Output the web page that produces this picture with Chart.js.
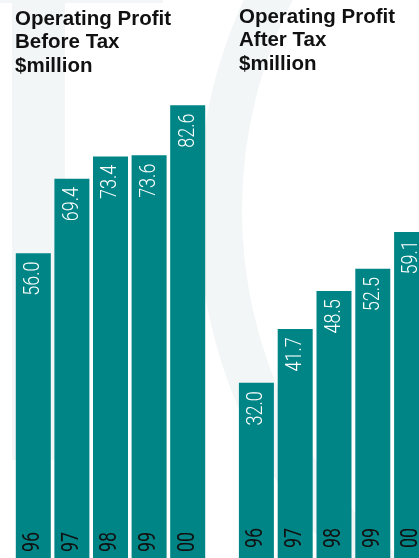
<!DOCTYPE html>
<html>
<head>
<meta charset="utf-8">
<script src="https://cdn.jsdelivr.net/npm/chart.js@4.4.0/dist/chart.umd.min.js"></script>
<style>
  html, body { margin: 0; padding: 0; background: #fff; }
  body { width: 419px; height: 558px; overflow: hidden; position: relative; }
  .wm { position: absolute; background: #f2f6f6; }
  .ring { position: absolute; left: 198px; top: -295px; width: 1010px; height: 1010px;
          box-sizing: border-box; border: 44px solid #f2f6f6; border-radius: 50%; }
  canvas { position: absolute; }
  .title { position: absolute; font-family: "Liberation Sans", Arial, sans-serif; font-weight: bold;
           font-size: 20.5px; line-height: 23.3px; color: #111; white-space: nowrap; }
</style>
</head>
<body>
<div class="ring"></div>
<div class="wm" style="left:12px;top:0;width:53px;height:460px;"></div>
<div class="wm" style="left:0;top:0;width:163px;height:3px;"></div>

<canvas id="beforeChart" width="193" height="565" style="left:14px;top:0;"></canvas>
<canvas id="afterChart" width="194" height="565" style="left:237px;top:-4px;"></canvas>

<div class="title" style="left:15px;top:6px;">Operating Profit<br>Before Tax<br>$million</div>
<div class="title" style="left:239px;top:4px;">Operating Profit<br>After Tax<br>$million</div>

<script>
const years = ["96", "97", "98", "99", "00"];
const beforeTax = [56.0, 69.4, 73.4, 73.6, 82.6];
const afterTax = [32.0, 41.7, 48.5, 52.5, 59.1];

const teal = "#008587";

// rotated labels: value near the top of each bar, year near the bottom
const barLabels = {
  id: "barLabels",
  afterDatasetsDraw(chart) {
    const ctx = chart.ctx;
    const meta = chart.getDatasetMeta(0);
    const values = chart.data.datasets[0].data;
    meta.data.forEach(function (bar, i) {
      ctx.save();
      ctx.translate(bar.x + 5.8, bar.y + 8.3);
      ctx.rotate(-Math.PI / 2);
      ctx.scale(0.8, 1);
      ctx.fillStyle = "#ffffff";
      ctx.font = "300 22.5px Roboto";
      ctx.textAlign = "right";
      ctx.textBaseline = "alphabetic";
      ctx.fillText(values[i].toFixed(1), 0, 0);
      ctx.restore();

      ctx.save();
      ctx.translate(bar.x + 5.8, bar.base - 13);
      ctx.rotate(-Math.PI / 2);
      ctx.scale(0.78, 1);
      ctx.fillStyle = "#111111";
      ctx.font = "400 23px Roboto";
      ctx.textAlign = "left";
      ctx.textBaseline = "alphabetic";
      ctx.fillText(chart.data.labels[i], 0, 0);
      ctx.restore();
    });
  }
};

function makeChart(id, values, barPct) {
  return new Chart(document.getElementById(id), {
    type: "bar",
    data: {
      labels: years,
      datasets: [{
        data: values,
        backgroundColor: teal,
        borderWidth: 0,
        categoryPercentage: 1,
        barPercentage: barPct
      }]
    },
    options: {
      responsive: false,
      animation: false,
      layout: { padding: 0 },
      plugins: {
        legend: { display: false },
        tooltip: { enabled: false }
      },
      scales: {
        x: { display: false },
        y: { display: false, min: 0, max: 101.5 }
      }
    },
    plugins: [barLabels]
  });
}

makeChart("beforeChart", beforeTax, 0.907);
makeChart("afterChart", afterTax, 0.902);
</script>
</body>
</html>
